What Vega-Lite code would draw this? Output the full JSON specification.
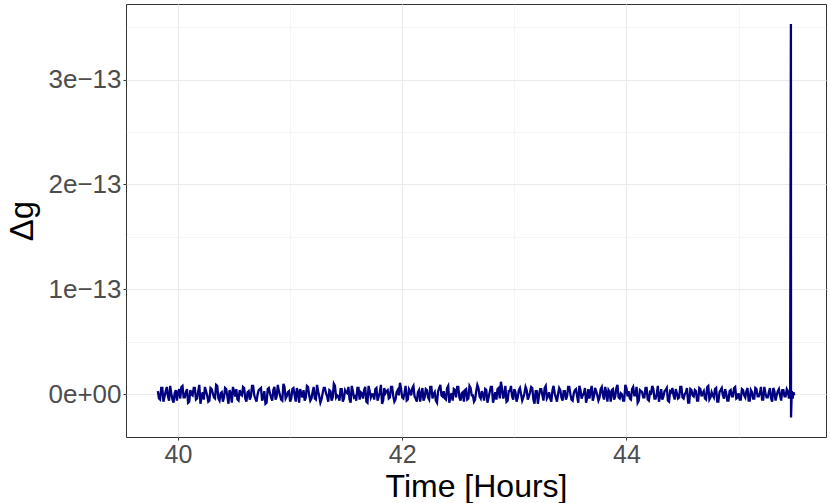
{
  "$schema": "https://vega.github.io/schema/vega-lite/v6.json",
  "width": 700,
  "height": 433,
  "autosize": "none",
  "padding": {"left": 126, "top": 4, "right": 4, "bottom": 66},
  "background": "white",
  "config": {
    "view": {"stroke": "#333333", "strokeWidth": 1},
    "font": "Liberation Sans"
  },
  "data": {"values": [
{"t":39.82,"v":3e-15},{"t":39.84,"v":-5e-15},{"t":39.86,"v":6e-15},{"t":39.88,"v":-2e-15},{"t":39.90,"v":7e-15},{"t":39.92,"v":-6e-15},{"t":39.94,"v":1e-15},{"t":39.96,"v":-8e-15},{"t":39.98,"v":4e-15},{"t":40.00,"v":2e-15},
{"t":40.02,"v":-4e-15},{"t":40.04,"v":8e-15},{"t":40.06,"v":-3e-15},{"t":40.08,"v":5e-15},{"t":40.10,"v":-7e-15},{"t":40.12,"v":0},{"t":40.14,"v":6e-15},{"t":40.16,"v":-5e-15},{"t":40.18,"v":3e-15},{"t":40.20,"v":-9e-15},
{"t":40.22,"v":2e-15},{"t":40.24,"v":7e-15},{"t":40.26,"v":-1e-15},{"t":40.28,"v":-6e-15},{"t":40.30,"v":5e-15},{"t":40.32,"v":-3e-15},{"t":40.34,"v":9e-15},{"t":40.36,"v":-4e-15},{"t":40.38,"v":1e-15},{"t":40.40,"v":-7e-15},
{"t":40.42,"v":6e-15},{"t":40.44,"v":-2e-15},{"t":40.46,"v":4e-15},{"t":40.48,"v":-8e-15},{"t":40.50,"v":3e-15},{"t":40.52,"v":5e-15},{"t":40.54,"v":-6e-15},{"t":40.56,"v":0},{"t":40.58,"v":7e-15},{"t":40.60,"v":-4e-15},
{"t":40.62,"v":2e-15},{"t":40.64,"v":-5e-15},{"t":40.66,"v":8e-15},{"t":40.68,"v":-1e-15},{"t":40.70,"v":-7e-15},{"t":40.72,"v":4e-15},{"t":40.74,"v":6e-15},{"t":40.76,"v":-3e-15},{"t":40.78,"v":-9e-15},{"t":40.80,"v":5e-15},
{"t":40.82,"v":1e-15},{"t":40.84,"v":-6e-15},{"t":40.86,"v":7e-15},{"t":40.88,"v":-2e-15},{"t":40.90,"v":3e-15},{"t":40.92,"v":-5e-15},{"t":40.94,"v":10e-15},{"t":40.96,"v":-4e-15},{"t":40.98,"v":2e-15},{"t":41.00,"v":-7e-15},
{"t":41.02,"v":5e-15},{"t":41.04,"v":-1e-15},{"t":41.06,"v":6e-15},{"t":41.08,"v":-8e-15},{"t":41.10,"v":0},{"t":41.12,"v":4e-15},{"t":41.14,"v":-3e-15},{"t":41.16,"v":7e-15},{"t":41.18,"v":-6e-15},{"t":41.20,"v":2e-15},
{"t":41.22,"v":-4e-15},{"t":41.24,"v":9e-15},{"t":41.26,"v":-2e-15},{"t":41.28,"v":-5e-15},{"t":41.30,"v":6e-15},{"t":41.32,"v":1e-15},{"t":41.34,"v":-7e-15},{"t":41.36,"v":3e-15},{"t":41.38,"v":-3e-15},{"t":41.40,"v":8e-15},
{"t":41.42,"v":-1e-15},{"t":41.44,"v":-6e-15},{"t":41.46,"v":5e-15},{"t":41.48,"v":-4e-15},{"t":41.50,"v":2e-15},{"t":41.52,"v":7e-15},{"t":41.54,"v":-8e-15},{"t":41.56,"v":3e-15},{"t":41.58,"v":-2e-15},{"t":41.60,"v":6e-15},
{"t":41.62,"v":-5e-15},{"t":41.64,"v":1e-15},{"t":41.66,"v":4e-15},{"t":41.68,"v":-7e-15},{"t":41.70,"v":8e-15},{"t":41.72,"v":-3e-15},{"t":41.74,"v":0},{"t":41.76,"v":5e-15},{"t":41.78,"v":-6e-15},{"t":41.80,"v":2e-15},
{"t":41.82,"v":-9e-15},{"t":41.84,"v":6e-15},{"t":41.86,"v":3e-15},{"t":41.88,"v":-4e-15},{"t":41.90,"v":7e-15},{"t":41.92,"v":-2e-15},{"t":41.94,"v":-5e-15},{"t":41.96,"v":4e-15},{"t":41.98,"v":11e-15},{"t":42.00,"v":-3e-15},
{"t":42.02,"v":1e-15},{"t":42.04,"v":-6e-15},{"t":42.06,"v":5e-15},{"t":42.08,"v":-1e-15},{"t":42.10,"v":8e-15},{"t":42.12,"v":-4e-15},{"t":42.14,"v":2e-15},{"t":42.16,"v":-7e-15},{"t":42.18,"v":6e-15},{"t":42.20,"v":-3e-15},
{"t":42.22,"v":4e-15},{"t":42.24,"v":-5e-15},{"t":42.26,"v":7e-15},{"t":42.28,"v":0},{"t":42.30,"v":-6e-15},{"t":42.32,"v":3e-15},{"t":42.34,"v":9e-15},{"t":42.36,"v":-2e-15},{"t":42.38,"v":-4e-15},{"t":42.40,"v":6e-15},
{"t":42.42,"v":-8e-15},{"t":42.44,"v":1e-15},{"t":42.46,"v":5e-15},{"t":42.48,"v":-3e-15},{"t":42.50,"v":7e-15},{"t":42.52,"v":-6e-15},{"t":42.54,"v":2e-15},{"t":42.56,"v":4e-15},{"t":42.58,"v":-5e-15},{"t":42.60,"v":8e-15},
{"t":42.62,"v":-1e-15},{"t":42.64,"v":-7e-15},{"t":42.66,"v":3e-15},{"t":42.68,"v":6e-15},{"t":42.70,"v":-4e-15},{"t":42.72,"v":0},{"t":42.74,"v":5e-15},{"t":42.76,"v":-8e-15},{"t":42.78,"v":2e-15},{"t":42.80,"v":7e-15},
{"t":42.82,"v":-3e-15},{"t":42.84,"v":-5e-15},{"t":42.86,"v":6e-15},{"t":42.88,"v":12e-15},{"t":42.90,"v":-4e-15},{"t":42.92,"v":8e-15},{"t":42.94,"v":-6e-15},{"t":42.96,"v":3e-15},{"t":42.98,"v":-2e-15},{"t":43.00,"v":5e-15},
{"t":43.02,"v":-7e-15},{"t":43.04,"v":4e-15},{"t":43.06,"v":0},{"t":43.08,"v":-3e-15},{"t":43.10,"v":7e-15},{"t":43.12,"v":-5e-15},{"t":43.14,"v":2e-15},{"t":43.16,"v":6e-15},{"t":43.18,"v":-9e-15},{"t":43.20,"v":3e-15},
{"t":43.22,"v":-1e-15},{"t":43.24,"v":5e-15},{"t":43.26,"v":-6e-15},{"t":43.28,"v":8e-15},{"t":43.30,"v":-2e-15},{"t":43.32,"v":-4e-15},{"t":43.34,"v":4e-15},{"t":43.36,"v":1e-15},{"t":43.38,"v":-7e-15},{"t":43.40,"v":6e-15},
{"t":43.42,"v":-3e-15},{"t":43.44,"v":3e-15},{"t":43.46,"v":-5e-15},{"t":43.48,"v":7e-15},{"t":43.50,"v":0},{"t":43.52,"v":-6e-15},{"t":43.54,"v":4e-15},{"t":43.56,"v":-2e-15},{"t":43.58,"v":8e-15},{"t":43.60,"v":-4e-15},
{"t":43.62,"v":1e-15},{"t":43.64,"v":-8e-15},{"t":43.66,"v":5e-15},{"t":43.68,"v":3e-15},{"t":43.70,"v":-6e-15},{"t":43.72,"v":6e-15},{"t":43.74,"v":-1e-15},{"t":43.76,"v":-3e-15},{"t":43.78,"v":7e-15},{"t":43.80,"v":-5e-15},
{"t":43.82,"v":2e-15},{"t":43.84,"v":4e-15},{"t":43.86,"v":-7e-15},{"t":43.88,"v":5e-15},{"t":43.90,"v":-2e-15},{"t":43.92,"v":9e-15},{"t":43.94,"v":-4e-15},{"t":43.96,"v":0},{"t":43.98,"v":-6e-15},{"t":44.00,"v":6e-15},
{"t":44.02,"v":3e-15},{"t":44.04,"v":-5e-15},{"t":44.06,"v":7e-15},{"t":44.08,"v":-1e-15},{"t":44.10,"v":-8e-15},{"t":44.12,"v":4e-15},{"t":44.14,"v":2e-15},{"t":44.16,"v":-3e-15},{"t":44.18,"v":6e-15},{"t":44.20,"v":-6e-15},
{"t":44.22,"v":1e-15},{"t":44.24,"v":5e-15},{"t":44.26,"v":-4e-15},{"t":44.28,"v":8e-15},{"t":44.30,"v":-2e-15},{"t":44.32,"v":-5e-15},{"t":44.34,"v":3e-15},{"t":44.36,"v":6e-15},{"t":44.38,"v":-7e-15},{"t":44.40,"v":2e-15},
{"t":44.42,"v":-1e-15},{"t":44.44,"v":5e-15},{"t":44.46,"v":-4e-15},{"t":44.48,"v":7e-15},{"t":44.50,"v":-3e-15},{"t":44.52,"v":0},{"t":44.54,"v":6e-15},{"t":44.56,"v":-8e-15},{"t":44.58,"v":4e-15},{"t":44.60,"v":-2e-15},
{"t":44.62,"v":3e-15},{"t":44.64,"v":-6e-15},{"t":44.66,"v":5e-15},{"t":44.68,"v":1e-15},{"t":44.70,"v":-4e-15},{"t":44.72,"v":7e-15},{"t":44.74,"v":-5e-15},{"t":44.76,"v":2e-15},{"t":44.78,"v":-3e-15},{"t":44.80,"v":6e-15},
{"t":44.82,"v":-7e-15},{"t":44.84,"v":4e-15},{"t":44.86,"v":-1e-15},{"t":44.88,"v":5e-15},{"t":44.90,"v":-6e-15},{"t":44.92,"v":3e-15},{"t":44.94,"v":-2e-15},{"t":44.96,"v":6e-15},{"t":44.98,"v":-4e-15},{"t":45.00,"v":1e-15},
{"t":45.02,"v":-5e-15},{"t":45.04,"v":4e-15},{"t":45.06,"v":-3e-15},{"t":45.08,"v":6e-15},{"t":45.10,"v":-6e-15},{"t":45.12,"v":2e-15},{"t":45.14,"v":-4e-15},{"t":45.16,"v":5e-15},{"t":45.18,"v":-2e-15},{"t":45.20,"v":7e-15},
{"t":45.22,"v":-5e-15},{"t":45.24,"v":1e-15},{"t":45.26,"v":-3e-15},{"t":45.28,"v":6e-15},{"t":45.30,"v":-7e-15},{"t":45.32,"v":3e-15},{"t":45.34,"v":-1e-15},{"t":45.36,"v":5e-15},{"t":45.38,"v":-6e-15},{"t":45.40,"v":4e-15},
{"t":45.42,"v":-2e-15},{"t":45.44,"v":3e-15},{"t":45.45,"v":-4e-15},{"t":45.46,"v":2e-15},{"t":45.467,"v":3.53e-13},{"t":45.468,"v":-2.2e-14},{"t":45.475,"v":3e-15},{"t":45.482,"v":-4e-15},{"t":45.49,"v":2e-15},{"t":45.497,"v":-1e-15},
{"t":39.83,"v":-4e-15},{"t":39.85,"v":6e-15},{"t":39.87,"v":-7e-15},{"t":39.89,"v":3e-15},{"t":39.91,"v":-2e-15},{"t":39.93,"v":8e-15},{"t":39.95,"v":-5e-15},{"t":39.97,"v":1e-15},{"t":39.99,"v":-6e-15},{"t":40.01,"v":5e-15},
{"t":40.03,"v":7e-15},{"t":40.05,"v":-3e-15},{"t":40.07,"v":2e-15},{"t":40.09,"v":-8e-15},{"t":40.11,"v":4e-15},{"t":40.13,"v":-1e-15},{"t":40.15,"v":6e-15},{"t":40.17,"v":-4e-15},{"t":40.19,"v":9e-15},{"t":40.21,"v":-2e-15},
{"t":40.23,"v":-5e-15},{"t":40.25,"v":3e-15},{"t":40.27,"v":-7e-15},{"t":40.29,"v":6e-15},{"t":40.31,"v":1e-15},{"t":40.33,"v":-4e-15},{"t":40.35,"v":8e-15},{"t":40.37,"v":-6e-15},{"t":40.39,"v":2e-15},{"t":40.41,"v":-3e-15},
{"t":40.43,"v":5e-15},{"t":40.45,"v":-9e-15},{"t":40.47,"v":1e-15},{"t":40.49,"v":7e-15},{"t":40.51,"v":-2e-15},{"t":40.53,"v":-5e-15},{"t":40.55,"v":4e-15},{"t":40.57,"v":-1e-15},{"t":40.59,"v":6e-15},{"t":40.61,"v":-7e-15},
{"t":40.63,"v":3e-15},{"t":40.65,"v":-2e-15},{"t":40.67,"v":8e-15},{"t":40.69,"v":-4e-15},{"t":40.71,"v":0},{"t":40.73,"v":5e-15},{"t":40.75,"v":-6e-15},{"t":40.77,"v":3e-15},{"t":40.79,"v":-8e-15},{"t":40.81,"v":6e-15},
{"t":40.83,"v":-3e-15},{"t":40.85,"v":4e-15},{"t":40.87,"v":-5e-15},{"t":40.89,"v":9e-15},{"t":40.91,"v":-1e-15},{"t":40.93,"v":-6e-15},{"t":40.95,"v":7e-15},{"t":40.97,"v":-2e-15},{"t":40.99,"v":3e-15},{"t":41.01,"v":-4e-15},
{"t":41.03,"v":6e-15},{"t":41.05,"v":-7e-15},{"t":41.07,"v":2e-15},{"t":41.09,"v":5e-15},{"t":41.11,"v":-3e-15},{"t":41.13,"v":-6e-15},{"t":41.15,"v":8e-15},{"t":41.17,"v":-1e-15},{"t":41.19,"v":-4e-15},{"t":41.21,"v":7e-15},
{"t":41.23,"v":-5e-15},{"t":41.25,"v":3e-15},{"t":41.27,"v":-8e-15},{"t":41.29,"v":1e-15},{"t":41.31,"v":6e-15},{"t":41.33,"v":-2e-15},{"t":41.35,"v":4e-15},{"t":41.37,"v":-6e-15},{"t":41.39,"v":10e-15},{"t":41.41,"v":-3e-15},
{"t":41.43,"v":-2e-15},{"t":41.45,"v":5e-15},{"t":41.47,"v":-7e-15},{"t":41.49,"v":4e-15},{"t":41.51,"v":1e-15},{"t":41.53,"v":-5e-15},{"t":41.55,"v":8e-15},{"t":41.57,"v":-3e-15},{"t":41.59,"v":-6e-15},{"t":41.61,"v":6e-15},
{"t":41.63,"v":2e-15},{"t":41.65,"v":-4e-15},{"t":41.67,"v":7e-15},{"t":41.69,"v":-8e-15},{"t":41.71,"v":3e-15},{"t":41.73,"v":0},{"t":41.75,"v":-5e-15},{"t":41.77,"v":6e-15},{"t":41.79,"v":-2e-15},{"t":41.81,"v":9e-15},
{"t":41.83,"v":-6e-15},{"t":41.85,"v":1e-15},{"t":41.87,"v":4e-15},{"t":41.89,"v":-3e-15},{"t":41.91,"v":7e-15},{"t":41.93,"v":-7e-15},{"t":41.95,"v":2e-15},{"t":41.97,"v":-1e-15},{"t":41.99,"v":5e-15},{"t":42.01,"v":-4e-15},
{"t":42.03,"v":8e-15},{"t":42.05,"v":-5e-15},{"t":42.07,"v":3e-15},{"t":42.09,"v":6e-15},{"t":42.11,"v":-2e-15},{"t":42.13,"v":-7e-15},{"t":42.15,"v":4e-15},{"t":42.17,"v":1e-15},{"t":42.19,"v":-6e-15},{"t":42.21,"v":5e-15},
{"t":42.23,"v":-3e-15},{"t":42.25,"v":7e-15},{"t":42.27,"v":-4e-15},{"t":42.29,"v":2e-15},{"t":42.31,"v":-8e-15},{"t":42.33,"v":6e-15},{"t":42.35,"v":-1e-15},{"t":42.37,"v":3e-15},{"t":42.39,"v":-5e-15},{"t":42.41,"v":8e-15},
{"t":42.43,"v":-2e-15},{"t":42.45,"v":-6e-15},{"t":42.47,"v":4e-15},{"t":42.49,"v":7e-15},{"t":42.51,"v":-3e-15},{"t":42.53,"v":1e-15},{"t":42.55,"v":-7e-15},{"t":42.57,"v":5e-15},{"t":42.59,"v":-4e-15},{"t":42.61,"v":6e-15},
{"t":42.63,"v":-1e-15},{"t":42.65,"v":-5e-15},{"t":42.67,"v":9e-15},{"t":42.69,"v":-2e-15},{"t":42.71,"v":3e-15},{"t":42.73,"v":-6e-15},{"t":42.75,"v":4e-15},{"t":42.77,"v":-3e-15},{"t":42.79,"v":7e-15},{"t":42.81,"v":-8e-15},
{"t":42.83,"v":2e-15},{"t":42.85,"v":5e-15},{"t":42.87,"v":-4e-15},{"t":42.89,"v":6e-15},{"t":42.91,"v":-1e-15},{"t":42.93,"v":-7e-15},{"t":42.95,"v":3e-15},{"t":42.97,"v":8e-15},{"t":42.99,"v":-5e-15},{"t":43.01,"v":2e-15},
{"t":43.03,"v":-3e-15},{"t":43.05,"v":6e-15},{"t":43.07,"v":-6e-15},{"t":43.09,"v":1e-15},{"t":43.11,"v":4e-15},{"t":43.13,"v":-2e-15},{"t":43.15,"v":7e-15},{"t":43.17,"v":-5e-15},{"t":43.19,"v":3e-15},{"t":43.21,"v":-9e-15},
{"t":43.23,"v":5e-15},{"t":43.25,"v":-1e-15},{"t":43.27,"v":6e-15},{"t":43.29,"v":-4e-15},{"t":43.31,"v":2e-15},{"t":43.33,"v":-7e-15},{"t":43.35,"v":8e-15},{"t":43.37,"v":-3e-15},{"t":43.39,"v":0},{"t":43.41,"v":4e-15},
{"t":43.43,"v":-6e-15},{"t":43.45,"v":3e-15},{"t":43.47,"v":-2e-15},{"t":43.49,"v":7e-15},{"t":43.51,"v":-5e-15},{"t":43.53,"v":1e-15},{"t":43.55,"v":5e-15},{"t":43.57,"v":-8e-15},{"t":43.59,"v":4e-15},{"t":43.61,"v":-1e-15},
{"t":43.63,"v":6e-15},{"t":43.65,"v":-3e-15},{"t":43.67,"v":-4e-15},{"t":43.69,"v":8e-15},{"t":43.71,"v":-2e-15},{"t":43.73,"v":3e-15},{"t":43.75,"v":-6e-15},{"t":43.77,"v":5e-15},{"t":43.79,"v":-1e-15},{"t":43.81,"v":7e-15},
{"t":43.83,"v":-7e-15},{"t":43.85,"v":2e-15},{"t":43.87,"v":4e-15},{"t":43.89,"v":-5e-15},{"t":43.91,"v":6e-15},{"t":43.93,"v":-3e-15},{"t":43.95,"v":1e-15},{"t":43.97,"v":-6e-15},{"t":43.99,"v":9e-15},{"t":44.01,"v":-2e-15},
{"t":44.03,"v":-4e-15},{"t":44.05,"v":5e-15},{"t":44.07,"v":-1e-15},{"t":44.09,"v":7e-15},{"t":44.11,"v":-6e-15},{"t":44.13,"v":3e-15},{"t":44.15,"v":-3e-15},{"t":44.17,"v":6e-15},{"t":44.19,"v":-5e-15},{"t":44.21,"v":2e-15},
{"t":44.23,"v":8e-15},{"t":44.25,"v":-4e-15},{"t":44.27,"v":0},{"t":44.29,"v":-7e-15},{"t":44.31,"v":5e-15},{"t":44.33,"v":-2e-15},{"t":44.35,"v":4e-15},{"t":44.37,"v":-6e-15},{"t":44.39,"v":3e-15},{"t":44.41,"v":6e-15},
{"t":44.43,"v":-5e-15},{"t":44.45,"v":1e-15},{"t":44.47,"v":-3e-15},{"t":44.49,"v":7e-15},{"t":44.51,"v":-4e-15},{"t":44.53,"v":2e-15},{"t":44.55,"v":-8e-15},{"t":44.57,"v":5e-15},{"t":44.59,"v":-1e-15},{"t":44.61,"v":4e-15},
{"t":44.63,"v":-6e-15},{"t":44.65,"v":6e-15},{"t":44.67,"v":-2e-15},{"t":44.69,"v":3e-15},{"t":44.71,"v":-5e-15},{"t":44.73,"v":8e-15},{"t":44.75,"v":-3e-15},{"t":44.77,"v":-1e-15},{"t":44.79,"v":5e-15},{"t":44.81,"v":-7e-15},
{"t":44.83,"v":2e-15},{"t":44.85,"v":6e-15},{"t":44.87,"v":-4e-15},{"t":44.89,"v":1e-15},{"t":44.91,"v":-6e-15},{"t":44.93,"v":4e-15},{"t":44.95,"v":-2e-15},{"t":44.97,"v":7e-15},{"t":44.99,"v":-3e-15},{"t":45.01,"v":-5e-15},
{"t":45.03,"v":5e-15},{"t":45.05,"v":-1e-15},{"t":45.07,"v":3e-15},{"t":45.09,"v":-6e-15},{"t":45.11,"v":4e-15},{"t":45.13,"v":-4e-15},{"t":45.15,"v":6e-15},{"t":45.17,"v":-2e-15},{"t":45.19,"v":1e-15},{"t":45.21,"v":-5e-15},
{"t":45.23,"v":7e-15},{"t":45.25,"v":-3e-15},{"t":45.27,"v":2e-15},{"t":45.29,"v":-4e-15},{"t":45.31,"v":6e-15},{"t":45.33,"v":-6e-15},{"t":45.35,"v":3e-15},{"t":45.37,"v":-1e-15},{"t":45.39,"v":4e-15},{"t":45.41,"v":-2e-15},
{"t":45.43,"v":5e-15}
  ]},
  "mark": {"type": "line", "color": "#000080", "strokeWidth": 2.3, "clip": true},
  "encoding": {
    "x": {
      "field": "t", "type": "quantitative",
      "sort": "ascending",
      "scale": {"domain": [39.536, 45.78], "nice": false, "zero": false},
      "axis": {
        "title": "Time [Hours]",
        "values": [40, 41, 42, 43, 44, 45],
        "labelExpr": "datum.value % 2 == 0 ? format(datum.value, 'd') : ''",
        "grid": true,
        "gridColor": "#EBEBEB",
        "gridWidth": {"condition": {"test": "datum.value % 2 != 0", "value": 0.5}, "value": 1.1},
        "domain": false,
        "ticks": true,
        "tickColor": "#333333",
        "tickSize": 3,
        "tickWidth": 1,
        "tickOpacity": {"condition": {"test": "datum.value % 2 != 0", "value": 0}, "value": 1},
        "labelFont": "Liberation Sans",
        "labelFontSize": 25,
        "labelColor": "#4D4D4D",
        "labelPadding": 2,
        "titleFont": "Liberation Sans",
        "titleFontSize": 32,
        "titleFontWeight": "normal",
        "titleColor": "#000000",
        "titlePadding": 4
      }
    },
    "y": {
      "field": "v", "type": "quantitative",
      "scale": {"domain": [-4.07e-14, 3.72e-13], "nice": false, "zero": false},
      "axis": {
        "title": "Δg",
        "values": [0, 5e-14, 1e-13, 1.5e-13, 2e-13, 2.5e-13, 3e-13, 3.5e-13],
        "labelExpr": "abs(datum.value/1e-13 - round(datum.value/1e-13)) < 0.01 ? (datum.value == 0 ? '0e+00' : replace(format(datum.value, '.0e'), '-', '−')) : ''",
        "grid": true,
        "gridColor": "#EBEBEB",
        "gridWidth": {"condition": {"test": "abs(datum.value/1e-13 - round(datum.value/1e-13)) > 0.01", "value": 0.5}, "value": 1.1},
        "domain": false,
        "ticks": true,
        "tickColor": "#333333",
        "tickSize": 3,
        "tickWidth": 1,
        "tickOpacity": {"condition": {"test": "abs(datum.value/1e-13 - round(datum.value/1e-13)) > 0.01", "value": 0}, "value": 1},
        "labelFont": "Liberation Sans",
        "labelFontSize": 26,
        "labelColor": "#4D4D4D",
        "labelPadding": 2,
        "titleFont": "Liberation Sans",
        "titleFontSize": 33,
        "titleFontWeight": "normal",
        "titleColor": "#000000",
        "titlePadding": 8
      }
    }
  }
}
